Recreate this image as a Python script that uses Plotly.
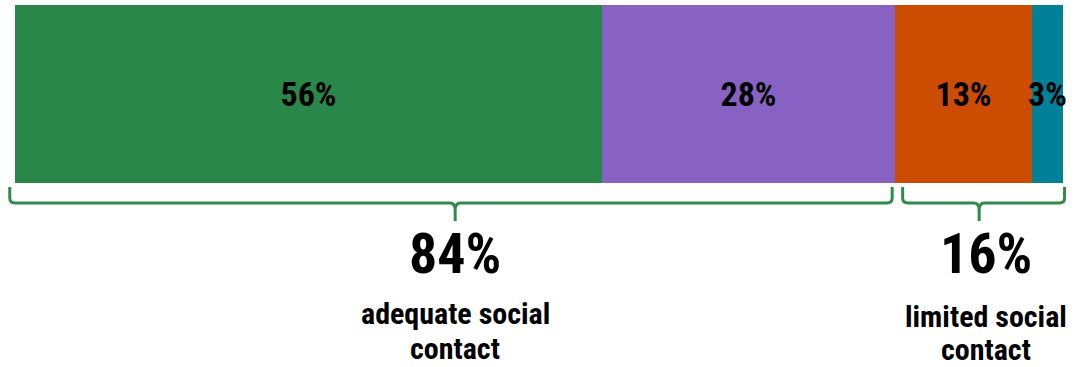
import plotly.graph_objects as go

# ---- data ----
segment_names = ["Segment 1", "Segment 2", "Segment 3", "Segment 4"]
segment_values = [56, 28, 13, 3]
segment_colors = ["#2A874A", "#8862C2", "#CC4C02", "#00819A"]

group_labels = ["84%", "16%"]
group_captions = ["adequate social\ncontact", "limited social\ncontact"]
group_members = [[0, 1], [2, 3]]

W, H = 1087, 367
TOP, BAR_H = 5, 178
X0PX, X100PX = 15, 1063          # pixel columns of 0% and 100%
PL, PR = 5, 1073                  # plot area pixel extent
FONT = "Roboto Condensed, Liberation Sans Narrow, Arial Narrow, sans-serif"
BRACE_COLOR = "#2F8B4B"

UNIT = (X100PX - X0PX) / 100.0


def ypx(py):
    """convert pixel row to data y (bar centred at y=0, width 1)"""
    return 0.5 - (py - TOP) / BAR_H


fig = go.Figure()
for name, val, col in zip(segment_names, segment_values, segment_colors):
    fig.add_trace(go.Bar(
        x=[val], y=[0], orientation="h", name=name, width=1,
        marker=dict(color=col, line=dict(width=0)),
        text=[f"{val}%"], textposition="inside", insidetextanchor="middle",
        constraintext="none", textangle=0,
        textfont=dict(family=FONT, size=34, color="black", weight="bold"),
        hoverinfo="skip",
    ))

# braces + group annotations
starts = []
acc = 0
for v in segment_values:
    starts.append(acc)
    acc += v

annotations = []
for gi, (lab, cap, mem) in enumerate(zip(group_labels, group_captions, group_members)):
    a = starts[mem[0]]
    b = starts[mem[-1]] + segment_values[mem[-1]]
    x0 = a - 0.5 if a == 0 else a + 0.7
    x1 = b - 0.3 if b < 100 else b + 0.15
    xc = (a + b) / 2
    r = 0.5
    yt, yh, yb = ypx(187), ypx(203), ypx(221)
    yr = ypx(198)
    ym = ypx(210)
    path = (f"M {x0},{yt} L {x0},{yr} Q {x0},{yh} {x0 + r},{yh} "
            f"L {xc - r},{yh} Q {xc},{yh} {xc},{ym} L {xc},{yb} "
            f"M {xc},{ym} Q {xc},{yh} {xc + r},{yh} "
            f"L {x1 - r},{yh} Q {x1},{yh} {x1},{yr} L {x1},{yt}")
    fig.add_shape(type="path", path=path, xref="x", yref="y",
                  line=dict(color=BRACE_COLOR, width=3))
    xs = 0 if gi == 0 else 7
    annotations.append(dict(x=xc, y=ypx(254), xref="x", yref="y", text=lab,
                            showarrow=False, xshift=xs,
                            font=dict(family=FONT, size=56, color="black", weight="bold")))
    for li, line in enumerate(cap.split("\n")):
        py = (313 if gi == 0 else 316) + li * (35 if gi == 0 else 33)
        annotations.append(dict(x=xc, y=ypx(py), xref="x", yref="y", text=line,
                                showarrow=False, xshift=xs,
                                font=dict(family=FONT, size=30, color="black", weight="bold")))

fig.update_layout(
    width=W, height=H,
    margin=dict(l=PL, r=W - PR, t=TOP, b=0, pad=0),
    barmode="stack", bargap=0,
    showlegend=False,
    plot_bgcolor="white", paper_bgcolor="white",
    xaxis=dict(range=[(PL - X0PX) / UNIT, (PR - X0PX) / UNIT], visible=False, fixedrange=True),
    yaxis=dict(range=[0.5 - (H - TOP) / BAR_H, 0.5], visible=False, fixedrange=True),
    annotations=annotations,
)

fig.write_html("out.html", config=dict(displayModeBar=False),
               post_script="document.body.style.margin='0';")
